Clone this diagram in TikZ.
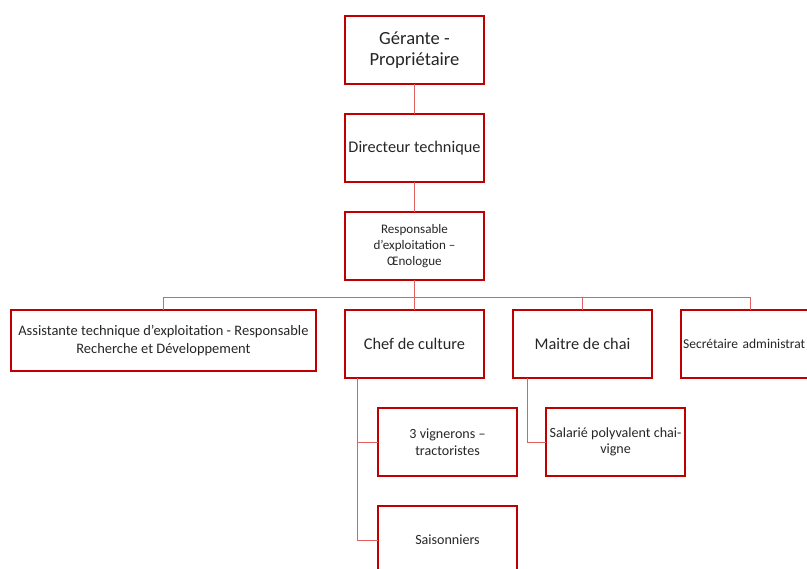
\documentclass[tikz,border=0pt]{standalone}
\usepackage{fontspec}
\setmainfont{Carlito}
\usetikzlibrary{positioning}
\definecolor{boxred}{RGB}{192, 0, 0}
\definecolor{linkred}{RGB}{224, 96, 96}
\definecolor{textgrey}{RGB}{38, 38, 38}
\tikzstyle{post} = [rectangle, draw=boxred, line width=1.3pt, minimum width=3.475cm, minimum height=1.7cm, inner sep=2pt, outer sep=0pt, align=center, text=textgrey]
\tikzstyle{bigpost} = [post, font=\fontsize{11.6}{14}\selectfont]
\tikzstyle{smallpost} = [post, font=\fontsize{10}{11.6}\selectfont]
\tikzstyle{link} = [draw=linkred, line width=0.7pt]

\begin{document}
\begin{tikzpicture}[x=0.025cm, y=-0.025cm, node distance=0.75cm and 0.725cm]
\useasboundingbox (0,0) rectangle (807,569);
\clip (0,0) rectangle (807,569);

\node (gerante) [post, font=\fontsize{13.2}{14.6}\selectfont] at (414.5,50) {Gérante -\\Propriétaire};
\node (directeur) [bigpost, below=of gerante] {Directeur technique};
\node (resp) [post, below=of directeur, font=\fontsize{9.3}{11.4}\selectfont] {Responsable\\d'exploitation –\\Œnologue};
\node (chef) [bigpost, below=of resp] {Chef de culture};
\node (maitre) [bigpost, right=of chef] {Maitre de chai};
\node (secr) [post, right=of maitre, text width=3.475cm-3pt, inner xsep=1.5pt, align=left, font=\fontsize{9.6}{11.6}\selectfont] {Secrétaire administrat};
\node (assist) [post, left=0.725cm of chef.north west, anchor=north east, minimum width=7.625cm, minimum height=1.525cm, font=\fontsize{10.3}{12.3}\selectfont] {Assistante technique d'exploitation - Responsable\\Recherche et Développement};
\node (vign) [smallpost, below=0.75cm of chef.south west, anchor=north west, xshift=0.825cm] {3 vignerons –\\tractoristes};
\node (saison) [smallpost, below=of vign] {Saisonniers};
\node (salarie) [smallpost, below=0.75cm of maitre.south west, anchor=north west, xshift=0.825cm] {Salarié polyvalent chai-\\vigne};

% Lines
\coordinate (bus) at ([yshift=-0.425cm]resp.south);
\draw [link] (gerante) -- (directeur);
\draw [link] (directeur) -- (resp);
\draw [link] (resp) -- (bus);
\draw [link] (assist.north) |- (bus) -| (secr.north);
\draw [link] (bus) -- (chef);
\draw [link] (maitre.north) |- (bus);
\draw [link] ([xshift=0.325cm]chef.south west) |- (vign.west);
\draw [link] ([xshift=0.325cm]chef.south west) |- (saison.west);
\draw [link] ([xshift=0.35cm]maitre.south west) |- (salarie.west);

\end{tikzpicture}
\end{document}
